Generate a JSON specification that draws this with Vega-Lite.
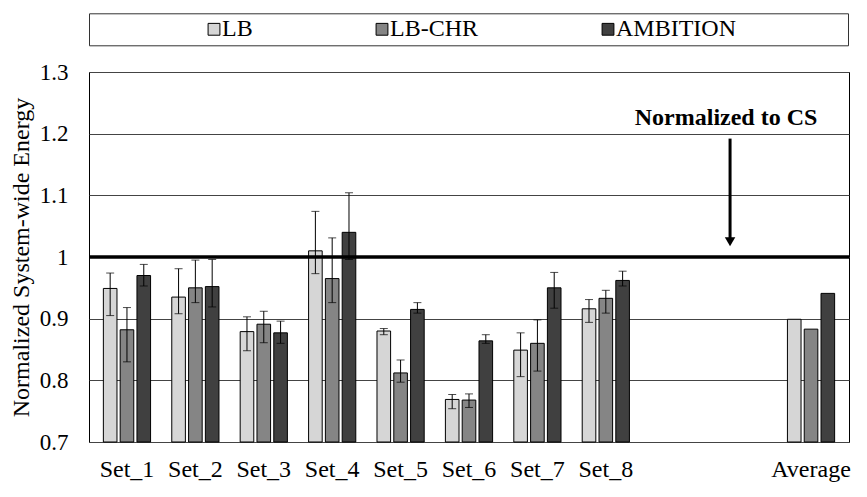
{
  "$schema": "https://vega.github.io/schema/vega-lite/v6.json",
  "width": 760,
  "height": 370,
  "autosize": {"type": "none"},
  "padding": {"left": 89, "top": 72, "right": 18, "bottom": 55},
  "config": {
    "font": "Liberation Serif, Times New Roman, serif",
    "view": {"stroke": "#000", "strokeWidth": 1},
    "axis": {"labelFont": "Liberation Serif, Times New Roman, serif", "titleFont": "Liberation Serif, Times New Roman, serif", "labelColor": "#000", "titleColor": "#000"},
    "legend": {"labelFont": "Liberation Serif, Times New Roman, serif", "titleFont": "Liberation Serif, Times New Roman, serif"},
    "text": {"font": "Liberation Serif, Times New Roman, serif"}
  },
  "data": {
    "values": [
      {"set": "Set_1", "series": "LB", "value": 0.949, "lo": 0.905, "hi": 0.974},
      {"set": "Set_1", "series": "LB-CHR", "value": 0.882, "lo": 0.830, "hi": 0.918},
      {"set": "Set_1", "series": "AMBITION", "value": 0.970, "lo": 0.953, "hi": 0.988},
      {"set": "Set_2", "series": "LB", "value": 0.935, "lo": 0.908, "hi": 0.981},
      {"set": "Set_2", "series": "LB-CHR", "value": 0.950, "lo": 0.926, "hi": 0.995},
      {"set": "Set_2", "series": "AMBITION", "value": 0.952, "lo": 0.919, "hi": 0.996},
      {"set": "Set_3", "series": "LB", "value": 0.879, "lo": 0.848, "hi": 0.903},
      {"set": "Set_3", "series": "LB-CHR", "value": 0.891, "lo": 0.861, "hi": 0.912},
      {"set": "Set_3", "series": "AMBITION", "value": 0.877, "lo": 0.860, "hi": 0.896},
      {"set": "Set_4", "series": "LB", "value": 1.010, "lo": 0.973, "hi": 1.074},
      {"set": "Set_4", "series": "LB-CHR", "value": 0.965, "lo": 0.926, "hi": 1.031},
      {"set": "Set_4", "series": "AMBITION", "value": 1.040, "lo": 0.996, "hi": 1.104},
      {"set": "Set_5", "series": "LB", "value": 0.880, "lo": 0.874, "hi": 0.884},
      {"set": "Set_5", "series": "LB-CHR", "value": 0.812, "lo": 0.797, "hi": 0.833},
      {"set": "Set_5", "series": "AMBITION", "value": 0.915, "lo": 0.909, "hi": 0.926},
      {"set": "Set_6", "series": "LB", "value": 0.769, "lo": 0.754, "hi": 0.777},
      {"set": "Set_6", "series": "LB-CHR", "value": 0.768, "lo": 0.756, "hi": 0.778},
      {"set": "Set_6", "series": "AMBITION", "value": 0.864, "lo": 0.860, "hi": 0.874},
      {"set": "Set_7", "series": "LB", "value": 0.849, "lo": 0.806, "hi": 0.877},
      {"set": "Set_7", "series": "LB-CHR", "value": 0.860, "lo": 0.815, "hi": 0.898},
      {"set": "Set_7", "series": "AMBITION", "value": 0.950, "lo": 0.917, "hi": 0.975},
      {"set": "Set_8", "series": "LB", "value": 0.916, "lo": 0.894, "hi": 0.931},
      {"set": "Set_8", "series": "LB-CHR", "value": 0.933, "lo": 0.909, "hi": 0.946},
      {"set": "Set_8", "series": "AMBITION", "value": 0.962, "lo": 0.953, "hi": 0.977},
      {"set": "Average", "series": "LB", "value": 0.899, "lo": null, "hi": null},
      {"set": "Average", "series": "LB-CHR", "value": 0.883, "lo": null, "hi": null},
      {"set": "Average", "series": "AMBITION", "value": 0.941, "lo": null, "hi": null}
    ]
  },
  "layer": [
    {
      "mark": {"type": "bar", "stroke": "#000", "strokeWidth": 1},
      "encoding": {
        "x": {
          "field": "set", "type": "nominal", "sort": null,
          "scale": {"domain": ["Set_1", "Set_2", "Set_3", "Set_4", "Set_5", "Set_6", "Set_7", "Set_8", "gap1", "gap2", "Average"], "paddingInner": 0.3, "paddingOuter": 0.205},
          "axis": {"title": null, "labelAngle": 0, "ticks": false, "tickSize": 0, "domain": false, "grid": false, "labelFontSize": 24, "labelPadding": 15, "labelExpr": "indexof(datum.label, 'gap') == 0 ? '' : datum.label"}
        },
        "xOffset": {
          "field": "series", "type": "nominal", "sort": null,
          "scale": {"domain": ["LB", "LB-CHR", "AMBITION"], "paddingInner": 0.19, "paddingOuter": 0.02}
        },
        "y": {
          "field": "value", "type": "quantitative",
          "scale": {"domain": [0.7, 1.3], "nice": false, "zero": false},
          "axis": {"title": "Normalized System-wide Energy", "titleFontSize": 24, "titleFontWeight": "normal", "titlePadding": 6, "values": [0.7, 0.8, 0.9, 1.0, 1.1, 1.2, 1.3], "format": "~g", "labelFontSize": 23, "labelPadding": 21, "ticks": false, "tickSize": 0, "domain": false, "grid": true, "gridColor": "#444", "gridWidth": 1}
        },
        "y2": {"datum": 0.7},
        "fill": {
          "field": "series", "type": "nominal", "sort": null,
          "scale": {"domain": ["LB", "LB-CHR", "AMBITION"], "range": ["#d6d6d6", "#858585", "#404040"]},
          "legend": {
            "title": "\u00a0", "titleOrient": "left", "titleFontSize": 1, "titlePadding": 109,
            "orient": "none", "legendX": 0, "legendY": -58.7, "direction": "horizontal",
            "columnPadding": 117, "labelFontSize": 24, "labelColor": "#000",
            "labelOffset": -4, "labelLimit": 400, "symbolType": "square", "symbolSize": 140,
            "symbolStrokeColor": "#000", "symbolStrokeWidth": 1, "padding": 4, "strokeColor": "#333",
            "labelExpr": "datum.value == 'AMBITION' ? 'AMBITION\u00a0\u00a0\u00a0\u00a0\u00a0\u00a0\u00a0\u00a0\u00a0\u00a0\u00a0\u00a0\u00a0\u00a0\u00a0\u00a0\u00a0\u00a0\u200b' : datum.label"
          }
        }
      }
    },
    {
      "data": {"values": [{"ref": 1.0}]},
      "mark": {"type": "rule", "strokeWidth": 3.5, "color": "#000"},
      "encoding": {"y": {"field": "ref", "type": "quantitative"}}
    },
    {
      "transform": [{"filter": "isValid(datum.lo)"}],
      "mark": {"type": "rule", "color": "#000", "strokeWidth": 1},
      "encoding": {
        "x": {"field": "set", "type": "nominal"},
        "xOffset": {"field": "series", "type": "nominal"},
        "y": {"field": "lo", "type": "quantitative"},
        "y2": {"field": "hi"}
      }
    },
    {
      "transform": [{"filter": "isValid(datum.lo)"}, {"fold": ["lo", "hi"], "as": ["end", "bound"]}],
      "mark": {"type": "tick", "color": "#000", "size": 8, "thickness": 1, "orient": "horizontal"},
      "encoding": {
        "x": {"field": "set", "type": "nominal"},
        "xOffset": {"field": "series", "type": "nominal"},
        "y": {"field": "bound", "type": "quantitative"}
      }
    },
    {
      "data": {"values": [{"set": "gap2", "from": 1.192, "to": 1.03}]},
      "mark": {"type": "rule", "strokeWidth": 3, "color": "#000"},
      "encoding": {
        "x": {"field": "set", "type": "nominal", "bandPosition": 0.2375},
        "y": {"field": "from", "type": "quantitative"},
        "y2": {"field": "to"}
      }
    },
    {
      "data": {"values": [{"set": "gap2", "tip": 1.0247}]},
      "mark": {"type": "point", "shape": "triangle-down", "filled": true, "size": 110, "color": "#000", "opacity": 1},
      "encoding": {
        "x": {"field": "set", "type": "nominal", "bandPosition": 0.2375},
        "y": {"field": "tip", "type": "quantitative"}
      }
    },
    {
      "data": {"values": [{"set": "gap2", "pos": 1.2134, "label": "Normalized to CS"}]},
      "mark": {"type": "text", "fontSize": 24, "fontWeight": "bold", "color": "#000", "baseline": "alphabetic", "align": "center"},
      "encoding": {
        "x": {"field": "set", "type": "nominal", "bandPosition": 0.154},
        "y": {"field": "pos", "type": "quantitative"},
        "text": {"field": "label"}
      }
    }
  ]
}
